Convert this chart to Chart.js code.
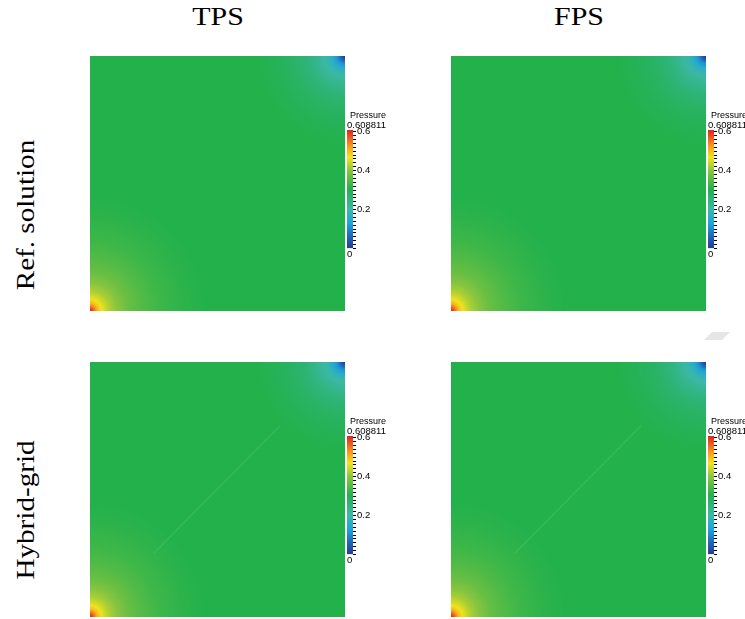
<!DOCTYPE html>
<html lang="en">
<head>
<meta charset="UTF-8">
<title>Pressure fields</title>
<script src="https://cdn.jsdelivr.net/npm/chart.js"></script>
<style>
  body { margin: 0; background: #fff; }
  #page { position: relative; width: 745px; height: 619px; overflow: hidden; background: #fff; }
  canvas { position: absolute; }
  .lbl { position: absolute; white-space: nowrap; color: #000; }
  .serif { font-family: "Liberation Serif", "Times New Roman", serif; font-size: 26px; }
  .sans { font-family: "Liberation Sans", Arial, sans-serif; font-size: 9.5px; line-height: 10px; }
</style>
</head>
<body>
<div id="page"></div>
<script>
// column / row titles
const columns = ['TPS', 'FPS'];
const rows = ['Ref. solution', 'Hybrid-grid'];

// pressure range and colour bar labels
const pressureMax = 0.608811;
const colorbarTicks = [0.2, 0.4, 0.6];
const backgroundPressure = 0.305;

// pressure going out from the injection corner (bottom left), distance as fraction of side
const injDist  = [0, 0.01, 0.02, 0.03, 0.045, 0.06, 0.08, 0.11, 0.15, 0.2, 0.27, 0.36, 0.45];
const injPress = [0.608, 0.58, 0.54, 0.50, 0.47, 0.445, 0.42, 0.395, 0.37, 0.35, 0.33, 0.315, 0.305];

// pressure going out from the production corner (top right)
const prodDist  = [0, 0.01, 0.02, 0.03, 0.045, 0.06, 0.08, 0.11, 0.15, 0.2, 0.27, 0.35];
const prodPress = [0, 0.03, 0.07, 0.11, 0.15, 0.18, 0.205, 0.23, 0.255, 0.275, 0.292, 0.305];

// fracture seen in the hybrid-grid runs
const fractureX = [0.25, 0.745];
const fractureY = [0.25, 0.75];

// colour map
const cmapPos = [0, 0.1, 0.21, 0.33, 0.5, 0.66, 0.77, 0.87, 1];
const cmapColors = ['#2b3990', '#2166b3', '#1ba4de', '#3cb8a8', '#22b14c', '#8dc63f', '#f2e41c', '#f7941d', '#e0231f'];

function hexRgb(h) {
  return [parseInt(h.slice(1, 3), 16), parseInt(h.slice(3, 5), 16), parseInt(h.slice(5, 7), 16)];
}
function colorAt(v) {
  const t = Math.max(0, Math.min(1, v / pressureMax));
  let i = 0;
  while (i < cmapPos.length - 2 && t > cmapPos[i + 1]) i++;
  const f = (t - cmapPos[i]) / (cmapPos[i + 1] - cmapPos[i]);
  const a = hexRgb(cmapColors[i]), b = hexRgb(cmapColors[i + 1]);
  const c = a.map((x, k) => Math.round(x + (b[k] - x) * f));
  return 'rgb(' + c.join(',') + ')';
}

// field = uniform background + one disc per well corner shaded from its profile
function fieldData() {
  return [
    { x: 0.5, y: 0.5, d: 1 },
    { x: 0, y: 0, d: injDist[injDist.length - 1], dist: injDist, press: injPress },
    { x: 1, y: 1, d: prodDist[prodDist.length - 1], dist: prodDist, press: prodPress }
  ];
}
function pxRadius(ctx) {
  const xs = ctx.chart.scales.x;
  if (!xs || !ctx.raw) return 0;
  const r = Math.abs(xs.getPixelForValue(ctx.raw.d) - xs.getPixelForValue(0));
  return isFinite(r) ? r : 0;
}
function fieldColor(ctx) {
  const p = ctx.raw;
  if (!p || !p.dist) return colorAt(backgroundPressure);
  const ch = ctx.chart;
  const px = ch.scales.x.getPixelForValue(p.x), py = ch.scales.y.getPixelForValue(p.y);
  const r = pxRadius(ctx);
  if (!isFinite(px) || !isFinite(py) || r <= 0) return colorAt(p.press[0]);
  const g = ch.ctx.createRadialGradient(px, py, 0, px, py, r);
  p.dist.forEach((d, i) => g.addColorStop(d / p.d, colorAt(p.press[i])));
  return g;
}

const page = document.getElementById('page');
const S = 255;
const panelLeft = [90, 451];
const panelTop = [56, 362];

function addCanvas(x, y, w, h) {
  const c = document.createElement('canvas');
  c.width = w; c.height = h;
  c.style.left = x + 'px'; c.style.top = y + 'px';
  c.style.width = w + 'px'; c.style.height = h + 'px';
  page.appendChild(c);
  return c;
}
function addLabel(text, cls, x, y, extra) {
  const d = document.createElement('div');
  d.className = 'lbl ' + cls;
  d.textContent = text;
  d.style.left = x + 'px'; d.style.top = y + 'px';
  if (extra) Object.assign(d.style, extra);
  page.appendChild(d);
  return d;
}

function makePanel(x, y, withFracture) {
  const datasets = [];
  if (withFracture) {
    datasets.push({
      type: 'line',
      data: fractureX.map((fx, i) => ({ x: fx, y: fractureY[i] })),
      borderColor: 'rgba(255,255,255,0.09)',
      borderWidth: 1.2,
      pointRadius: 0
    });
  }
  datasets.push({
    type: 'scatter',
    data: fieldData(),
    pointRadius: pxRadius,
    pointBackgroundColor: fieldColor,
    pointBorderWidth: 0,
    clip: 0
  });
  new Chart(addCanvas(x, y, S, S), {
    type: 'scatter',
    data: { datasets: datasets },
    options: {
      responsive: false,
      animation: false,
      events: [],
      layout: { padding: 0 },
      plugins: { legend: { display: false }, tooltip: { enabled: false } },
      scales: {
        x: { type: 'linear', min: 0, max: 1, display: false },
        y: { type: 'linear', min: 0, max: 1, display: false }
      }
    }
  });
}

function makeColorbar(panelRight, panelY) {
  new Chart(addCanvas(panelRight + 1, panelY + 54, 45, 150), {
    type: 'bar',
    data: {
      labels: ['Pressure'],
      datasets: [{
        data: [pressureMax],
        barPercentage: 1,
        categoryPercentage: 1,
        borderWidth: 0,
        backgroundColor: ctx => {
          const ch = ctx.chart;
          const ys = ch.scales.y;
          if (!ys || !ch.chartArea) return cmapColors[4];
          const y0 = ys.getPixelForValue(0), y1 = ys.getPixelForValue(pressureMax);
          if (!isFinite(y0) || !isFinite(y1)) return cmapColors[4];
          const g = ch.ctx.createLinearGradient(0, y0, 0, y1);
          cmapPos.forEach((p, i) => g.addColorStop(p, cmapColors[i]));
          return g;
        }
      }]
    },
    options: {
      responsive: false,
      animation: false,
      events: [],
      layout: { padding: { top: 20, bottom: 11.5, left: 1, right: 0 } },
      plugins: { legend: { display: false }, tooltip: { enabled: false } },
      scales: {
        x: { display: false },
        y: {
          position: 'right',
          min: 0,
          max: pressureMax,
          afterFit: s => { s.width = 38; },
          border: { display: false },
          grid: { drawOnChartArea: false, tickLength: 3, color: '#000', lineWidth: 1 },
          ticks: {
            stepSize: 0.02,
            includeBounds: false,
            autoSkip: false,
            maxTicksLimit: 1000,
            padding: 1,
            color: '#000',
            font: { family: '"Liberation Sans", Arial, sans-serif', size: 9.5 },
            callback: v => {
              const t = colorbarTicks.find(c => Math.abs(c - v) < 1e-6);
              return t === undefined ? '' : t.toFixed(1);
            }
          }
        }
      }
    }
  });
  addLabel('Pressure', 'sans', panelRight + 5, panelY + 54, { fontSize: '9px' });
  addLabel(pressureMax.toString(), 'sans', panelRight + 2, panelY + 64);
  addLabel('0', 'sans', panelRight + 2, panelY + 193);
}

rows.forEach((rowName, r) => {
  columns.forEach((colName, c) => {
    makePanel(panelLeft[c], panelTop[r], r === 1);
    makeColorbar(panelLeft[c] + S, panelTop[r]);
  });
});

// column titles
columns.forEach((name, c) => {
  const d = addLabel(name, 'serif', panelLeft[c] + S / 2, 2);
  d.style.transform = 'translateX(-50%) scaleX(1.15)';
});
// row titles (rotated)
const rowCenters = [215, 510];
rows.forEach((name, r) => {
  const d = addLabel(name, 'serif', 26, rowCenters[r]);
  d.style.transform = 'translate(-50%, -50%) rotate(-90deg) scaleX(1.12)';
});

// small grey mark at the right edge of the original figure
const mark = document.createElement('div');
Object.assign(mark.style, { position: 'absolute', left: '708px', top: '332px', width: '18px', height: '8px', background: '#e6e6e6', transform: 'skewX(-45deg)' });
page.appendChild(mark);
</script>
</body>
</html>
